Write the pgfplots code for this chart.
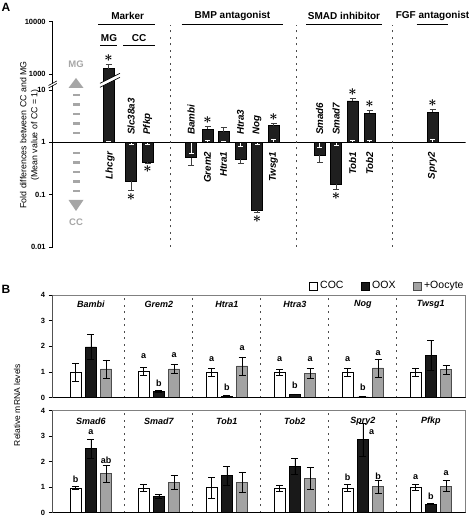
\documentclass[border=0pt]{standalone}
\usepackage{pgfplots}
\pgfplotsset{compat=1.18}
\usepackage{pgfplotstable}
\usepackage{fontspec}
\setmainfont{Liberation Sans}
\definecolor{agray}{gray}{0.65}
\definecolor{oogray}{gray}{0.64}

% Panel A: fold change (mean CC = 1); x = bar position, v = mean, hi = end of error bar, cc = end of CC error bar
\pgfplotstableread{
x v hi cc
108.5 1260 1540 1.04
131 0.18 0.12 0.93
147.5 0.42 0.40 0.93
191 0.51 0.37 0.62
207.5 1.78 2.0 1.07
223.5 1.60 1.94 1.06
240.5 0.48 0.39 0.82
257 0.051 0.045 0.93
273.5 2.08 2.3 1.14
319.5 0.57 0.42 0.79
336 0.16 0.127 0.89
352.5 6.2 6.8 1.09
369.5 3.6 4.05 1.08
432.5 3.78 4.2 1.14
}\dataA

% Panel B row 1: Bambi Grem2 Htra1 Htra3 Nog Twsg1
\pgfplotstableread{
x y e
75.5 1.00 0.35
143.5 1.02 0.15
211.5 0.99 0.17
279.5 0.99 0.10
347.5 0.99 0.15
415.5 0.99 0.17
}\cocA
\pgfplotstableread{
x y e
90.8 1.98 0.50
158.8 0.25 0.04
226.8 0.065 0.01
294.8 0.14 0.01
362.8 0.03 0.01
430.8 1.65 0.60
}\ooxA
\pgfplotstableread{
x y e
106.1 1.12 0.35
174.1 1.12 0.18
242.1 1.24 0.35
310.1 0.94 0.20
378.1 1.16 0.35
446.1 1.09 0.17
}\ooA
% Panel B row 2: Smad6 Smad7 Tob1 Tob2 Spry2 Pfkp
\pgfplotstableread{
x y e
75.5 0.97 0.07
143.5 0.97 0.15
211.5 0.98 0.40
279.5 0.97 0.12
347.5 0.97 0.13
415.5 0.99 0.12
}\cocB
\pgfplotstableread{
x y e
90.8 2.51 0.38
158.8 0.64 0.07
226.8 1.45 0.36
294.8 1.82 0.30
362.8 2.86 0.65
430.8 0.34 0.02
}\ooxB
\pgfplotstableread{
x y e
106.1 1.54 0.33
174.1 1.20 0.28
242.1 1.20 0.40
310.1 1.34 0.43
378.1 1.02 0.24
446.1 1.04 0.22
}\ooB

\tikzset{
  sepA/.style={black!70, line width=0.7pt, dash pattern=on 2pt off 4.5pt},
  glA/.style={font=\fontsize{9.8}{12}\selectfont\bfseries\itshape},
  sstar/.style={font=\fontsize{14}{14}\selectfont\boldmath},
  glB/.style={font=\fontsize{9}{11}\selectfont\bfseries\itshape},
  lett/.style={font=\fontsize{9}{10}\selectfont\bfseries},
  hdr/.style={font=\fontsize{10}{12}\selectfont\bfseries},
}

\begin{document}
\begin{tikzpicture}
\useasboundingbox (0pt,0pt) rectangle (470pt,518pt);

% ---------- Panel A: log10 scale with a break between 10 and 1000 ----------
\begin{axis}[at={(52.7pt,271.1pt)}, anchor=south west, scale only axis,
  width=413pt, height=225.2pt,
  xmin=52.7, xmax=465.7, ymin=-2, ymax=2.306,
  declare function={T(\v)=(\v>100) ? (ln(\v)/2.302585-1.694) : (ln(\v)/2.302585);},
  axis y line=left, axis x line=none, y axis line style={-, line width=0.7pt},
  ytick={-2,-1,0,1,1.306,2.306}, yticklabels={0.01,0.1,1,10,1000,10000},
  tick align=outside, major tick length=3.5pt, tick style={black, line width=0.6pt},
  yticklabel style={font=\fontsize{7.5}{8}\selectfont\bfseries},
  /pgf/number format/assume math mode=true]
\addplot[ybar, bar width=11, bar shift=0pt, fill=black!88, draw=black, line width=0.5pt,
  error bars/.cd, y dir=plus, y explicit,
  error bar style={black!75, line width=0.6pt},
  error mark options={rotate=90, mark size=3pt, black!75, line width=0.6pt}]
  table[x=x, y expr={T(\thisrow{v})}, y error expr={T(\thisrow{hi})-T(\thisrow{v})}]{\dataA};
\addplot[draw=none,
  error bars/.cd, y dir=plus, y explicit,
  error bar style={draw=white, line width=0.7pt},
  error mark options={rotate=90, mark size=2.5pt, draw=white, line width=0.7pt}]
  table[x=x, y expr=0, y error expr={T(\thisrow{cc})}]{\dataA};
\draw[black, line width=0.7pt] (axis cs:52.7,0) -- (axis cs:465.7,0);
\draw[sepA] (axis cs:170,-2) -- (axis cs:170,2.24);
\draw[sepA] (axis cs:296.7,-2) -- (axis cs:296.7,2.24);
\draw[sepA] (axis cs:392.3,-2) -- (axis cs:392.3,2.24);
% gene names
\node[glA, yshift=-6pt, rotate=90, anchor=east] at (axis cs:110,0) {Lhcgr};
\node[glA, yshift=4pt, rotate=90, anchor=west] at (axis cs:131,0) {Slc38a3};
\node[glA, yshift=4pt, rotate=90, anchor=west] at (axis cs:147.5,0) {Pfkp};
\node[glA, yshift=4pt, rotate=90, anchor=west] at (axis cs:191,0) {Bambi};
\node[glA, yshift=-6pt, rotate=90, anchor=east] at (axis cs:207.5,0) {Grem2};
\node[glA, yshift=-6pt, rotate=90, anchor=east] at (axis cs:223.5,0) {Htra1};
\node[glA, yshift=4pt, rotate=90, anchor=west] at (axis cs:240.5,0) {Htra3};
\node[glA, yshift=4pt, rotate=90, anchor=west] at (axis cs:257,0) {Nog};
\node[glA, yshift=-6pt, rotate=90, anchor=east] at (axis cs:273.5,0) {Twsg1};
\node[glA, yshift=4pt, rotate=90, anchor=west] at (axis cs:319.5,0) {Smad6};
\node[glA, yshift=4pt, rotate=90, anchor=west] at (axis cs:336,0) {Smad7};
\node[glA, yshift=-6pt, rotate=90, anchor=east] at (axis cs:352.5,0) {Tob1};
\node[glA, yshift=-6pt, rotate=90, anchor=east] at (axis cs:369.5,0) {Tob2};
\node[glA, yshift=-6pt, rotate=90, anchor=east] at (axis cs:432.5,0) {Spry2};
% significance stars
\node[sstar, yshift=6.5pt] at (axis cs:108.5,1.4935) {$\ast$};
\node[sstar, yshift=-6.5pt] at (axis cs:131,-0.921) {$\ast$};
\node[sstar, yshift=-5.5pt] at (axis cs:147.5,-0.398) {$\ast$};
\node[sstar, yshift=6.5pt] at (axis cs:207.5,0.301) {$\ast$};
\node[sstar, yshift=-6.5pt] at (axis cs:257,-1.347) {$\ast$};
\node[sstar, yshift=6.5pt] at (axis cs:273.5,0.362) {$\ast$};
\node[sstar, yshift=-6.5pt] at (axis cs:336,-0.896) {$\ast$};
\node[sstar, yshift=6.5pt] at (axis cs:352.5,0.8325) {$\ast$};
\node[sstar, yshift=6.5pt] at (axis cs:369.5,0.607) {$\ast$};
\node[sstar, yshift=6.5pt] at (axis cs:432.5,0.623) {$\ast$};
\end{axis}

% ---------- Panel B, row 1 ----------
\begin{axis}[at={(52.7pt,120.3pt)}, anchor=south west, scale only axis,
  width=413pt, height=102.7pt,
  xmin=52.7, xmax=465.7, ymin=0, ymax=4, ytick={0,1,2,3,4}, ytick pos=left,
  xtick=\empty, tick align=outside, major tick length=4pt,
  tick style={black, line width=0.6pt}, axis line style={black!50, line width=0.6pt},
  yticklabel style={font=\fontsize{7.5}{8}\selectfont\bfseries},
  /pgf/number format/assume math mode=true,
  legend columns=3,
  legend style={draw=none, fill=none, at={(1,1.088)}, anchor=east, inner sep=0pt,
    font=\fontsize{10.5}{12}\selectfont,
    /tikz/every odd column/.append style={column sep=1pt},
    /tikz/every even column/.append style={column sep=15pt}}]
\addlegendimage{legend image code/.code={\draw[black, fill=white, line width=0.6pt] (0pt,-4pt) rectangle (8pt,4pt);}}
\addlegendentry{COC}
\addlegendimage{legend image code/.code={\draw[black, fill=black!90, line width=0.6pt] (0pt,-4pt) rectangle (8pt,4pt);}}
\addlegendentry{OOX}
\addlegendimage{legend image code/.code={\draw[black!70, fill=oogray, line width=0.6pt] (0pt,-4pt) rectangle (8pt,4pt);}}
\addlegendentry{+Oocyte}
\addplot[ybar, bar width=11, bar shift=0pt, line width=0.6pt, forget plot, fill=white, draw=black,
  error bars/.cd, y dir=both, y explicit, error bar style={black, line width=0.6pt},
  error mark options={rotate=90, mark size=3.5pt, black, line width=0.6pt}]
  table[x=x, y=y, y error=e]{\cocA};
\addplot[ybar, bar width=11, bar shift=0pt, line width=0.6pt, forget plot, fill=black!90, draw=black,
  error bars/.cd, y dir=both, y explicit, error bar style={black, line width=0.6pt},
  error mark options={rotate=90, mark size=3.5pt, black, line width=0.6pt}]
  table[x=x, y=y, y error=e]{\ooxA};
\addplot[ybar, bar width=11, bar shift=0pt, line width=0.6pt, forget plot, fill=oogray, draw=black!70,
  error bars/.cd, y dir=both, y explicit, error bar style={black, line width=0.6pt},
  error mark options={rotate=90, mark size=3.5pt, black, line width=0.6pt}]
  table[x=x, y=y, y error=e]{\ooA};
\pgfplotsinvokeforeach{124.8,192.8,260.8,328.8,396.8}{
  \draw[sepA] (axis cs:#1,0) -- (axis cs:#1,4);}
\draw[black, line width=0.7pt] (rel axis cs:0,1) -- (rel axis cs:0,0) -- (rel axis cs:1,0);
\node[glB] at (axis cs:90.8,3.62) {Bambi};
\node[glB] at (axis cs:158.8,3.62) {Grem2};
\node[glB] at (axis cs:226.8,3.62) {Htra1};
\node[glB] at (axis cs:294.8,3.62) {Htra3};
\node[glB] at (axis cs:362.8,3.62) {Nog};
\node[glB] at (axis cs:430.8,3.62) {Twsg1};
\node[lett] at (axis cs:143.5,1.62) {a};
\node[lett] at (axis cs:158.8,0.58) {b};
\node[lett] at (axis cs:174.1,1.64) {a};
\node[lett] at (axis cs:211.5,1.51) {a};
\node[lett] at (axis cs:226.8,0.39) {b};
\node[lett] at (axis cs:242.1,1.92) {a};
\node[lett] at (axis cs:279.5,1.51) {a};
\node[lett] at (axis cs:294.8,0.47) {b};
\node[lett] at (axis cs:310.1,1.51) {a};
\node[lett] at (axis cs:347.5,1.51) {a};
\node[lett] at (axis cs:362.8,0.42) {b};
\node[lett] at (axis cs:378.1,1.75) {a};
\end{axis}

% ---------- Panel B, row 2 ----------
\begin{axis}[at={(52.7pt,5.3pt)}, anchor=south west, scale only axis,
  width=413pt, height=102pt,
  xmin=52.7, xmax=465.7, ymin=0, ymax=4, ytick={0,1,2,3,4}, ytick pos=left,
  xtick=\empty, tick align=outside, major tick length=4pt,
  tick style={black, line width=0.6pt}, axis line style={black!50, line width=0.6pt},
  yticklabel style={font=\fontsize{7.5}{8}\selectfont\bfseries},
  /pgf/number format/assume math mode=true]
\addplot[ybar, bar width=11, bar shift=0pt, line width=0.6pt, fill=white, draw=black,
  error bars/.cd, y dir=both, y explicit, error bar style={black, line width=0.6pt},
  error mark options={rotate=90, mark size=3.5pt, black, line width=0.6pt}]
  table[x=x, y=y, y error=e]{\cocB};
\addplot[ybar, bar width=11, bar shift=0pt, line width=0.6pt, fill=black!90, draw=black,
  error bars/.cd, y dir=both, y explicit, error bar style={black, line width=0.6pt},
  error mark options={rotate=90, mark size=3.5pt, black, line width=0.6pt}]
  table[x=x, y=y, y error=e]{\ooxB};
\addplot[ybar, bar width=11, bar shift=0pt, line width=0.6pt, fill=oogray, draw=black!70,
  error bars/.cd, y dir=both, y explicit, error bar style={black, line width=0.6pt},
  error mark options={rotate=90, mark size=3.5pt, black, line width=0.6pt}]
  table[x=x, y=y, y error=e]{\ooB};
\pgfplotsinvokeforeach{124.8,192.8,260.8,328.8,396.8}{
  \draw[sepA] (axis cs:#1,0) -- (axis cs:#1,4);}
\draw[black, line width=0.7pt] (rel axis cs:0,1) -- (rel axis cs:0,0) -- (rel axis cs:1,0);
\node[glB] at (axis cs:90.8,3.57) {Smad6};
\node[glB] at (axis cs:158.8,3.57) {Smad7};
\node[glB] at (axis cs:226.8,3.57) {Tob1};
\node[glB] at (axis cs:294.8,3.57) {Tob2};
\node[glB] at (axis cs:362.8,3.57) {Spry2};
\node[glB] at (axis cs:430.8,3.57) {Pfkp};
\node[lett] at (axis cs:75.5,1.32) {b};
\node[lett] at (axis cs:90.8,3.15) {a};
\node[lett] at (axis cs:106.1,2.07) {ab};
\node[lett] at (axis cs:347.5,1.37) {b};
\node[lett] at (axis cs:371.7,3.15) {a};
\node[lett] at (axis cs:378.1,1.41) {b};
\node[lett] at (axis cs:415.5,1.39) {a};
\node[lett] at (axis cs:430.8,0.65) {b};
\node[lett] at (axis cs:446.1,1.57) {a};
\end{axis}

% ---------- annotations ----------
\begin{scope}[x=1pt,y=1pt]
\node[font=\fontsize{12}{12}\selectfont\bfseries] at (6,511) {A};
\node[font=\fontsize{12}{12}\selectfont\bfseries] at (6,229) {B};
\node[hdr] at (127.7,502) {Marker};
\draw[line width=0.7pt] (98.3,493.7) -- (155,493.7);
\node[hdr] at (109,480.3) {MG};
\node[hdr] at (139,480.3) {CC};
\draw[line width=0.7pt] (100,473) -- (117,473);
\draw[line width=0.7pt] (123,473) -- (155,473);
\node[hdr] at (232.5,502) {BMP antagonist};
\draw[line width=0.7pt] (181.7,493.7) -- (283.3,493.7);
\node[hdr] at (344,502) {SMAD inhibitor};
\draw[line width=0.7pt] (306,493.7) -- (381.7,493.7);
\node[hdr] at (432.5,502) {FGF antagonist};
\draw[line width=0.7pt] (416.7,493.7) -- (448.3,493.7);
\node[rotate=90, align=center, font=\fontsize{8.8}{11}\selectfont] at (29.5,383)
  {Fold differences between CC and MG\\(Mean value of CC = 1)};
\node[rotate=90, font=\fontsize{8.5}{10}\selectfont] at (17,113) {Relative mRNA levels};
% MG / CC direction arrows
\node[text=agray, font=\fontsize{9.5}{10}\selectfont\bfseries] at (76,454) {MG};
\fill[agray] (76,440) -- (83.5,430) -- (68.5,430) -- cycle;
\draw[agray, line width=7pt, dash pattern=on 2.5pt off 7pt] (76,424) -- (76,383);
\draw[agray, line width=7pt, dash pattern=on 2.5pt off 7pt] (76,366) -- (76,323);
\fill[agray] (76,307) -- (83.5,318) -- (68.5,318) -- cycle;
\node[text=agray, font=\fontsize{9.5}{10}\selectfont\bfseries] at (76,296) {CC};
% axis break
\fill[white] (49,430.5) -- (56.3,434.5) -- (56.3,436.5) -- (49,432.5) -- cycle;
\draw[line width=0.6pt] (48.5,430) -- (56.8,434.5);
\draw[line width=0.6pt] (48.5,432.5) -- (56.8,437);
\fill[white] (100,430.7) -- (120,440.7) -- (120,444.7) -- (100,434.7) -- cycle;
\draw[line width=0.6pt] (100,430.7) -- (120,440.7);
\draw[line width=0.6pt] (100,434.7) -- (120,444.7);
\end{scope}
\end{tikzpicture}
\end{document}
